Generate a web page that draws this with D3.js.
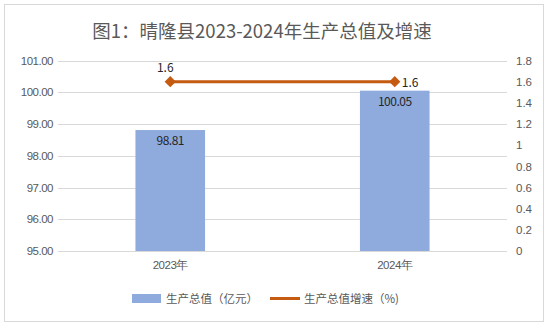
<!DOCTYPE html>
<html><head><meta charset="utf-8">
<script src="https://cdn.jsdelivr.net/npm/d3@7"></script>
<style>body{margin:0;background:#fff;}svg{display:block;font-family:"Noto Sans CJK SC","Noto Sans",sans-serif;}</style>
</head><body>
<svg id="c" width="548" height="326"></svg>
<script>
const categories = ["2023年", "2024年"];
const gdpValues = [98.81, 100.05];
const growthValues = [1.6, 1.6];
const leftTicks = [95, 96, 97, 98, 99, 100, 101];
const rightTicks = [0, 0.2, 0.4, 0.6, 0.8, 1, 1.2, 1.4, 1.6, 1.8];
const seriesNames = ["生产总值（亿元）", "生产总值增速（%)"];
const title = "图1：晴隆县2023-2024年生产总值及增速";

const svg = d3.select("#c");
const textColor = "#595959";
svg.append("rect").attr("x",4.5).attr("y",4.5).attr("width",539).attr("height",317)
  .attr("fill","#fff").attr("stroke","#d9d9d9");

svg.append("text").attr("x",262).attr("y",38).attr("text-anchor","middle")
  .attr("font-size",18.5).attr("fill",textColor).text(title);

const x = d3.scaleBand().domain(categories).range([58,507]).paddingInner(0.69).paddingOuter(0.345);
const y = d3.scaleLinear().domain([95,101]).range([251,60.5]);
const y2 = d3.scaleLinear().domain([0,1.8]).range([251,60.5]);

// grid
svg.append("g").selectAll("line").data(leftTicks).join("line")
  .attr("x1",58).attr("x2",507).attr("y1",d=>Math.round(y(d))+0.5).attr("y2",d=>Math.round(y(d))+0.5)
  .attr("stroke","#d9d9d9").attr("stroke-width",1);

// left axis
const la = svg.append("g").attr("transform","translate(53,0)")
  .call(d3.axisLeft(y).tickValues(leftTicks).tickFormat(d3.format(".2f")).tickSize(0).tickPadding(0));
la.select(".domain").remove();
la.selectAll("text").attr("font-size",11.5).attr("fill",textColor).attr("letter-spacing","-0.5");

// right axis
const ra = svg.append("g").attr("transform","translate(516,0)")
  .call(d3.axisRight(y2).tickValues(rightTicks).tickFormat(d=>String(+d.toFixed(1))).tickSize(0).tickPadding(0));
ra.select(".domain").remove();
ra.selectAll("text").attr("font-size",11.5).attr("fill",textColor);

// bars
svg.append("g").selectAll("rect").data(gdpValues).join("rect")
  .attr("x",(d,i)=>x(categories[i])).attr("width",x.bandwidth())
  .attr("y",d=>y(d)).attr("height",d=>y(95)-y(d)).attr("fill","#8FAADC");
svg.append("g").selectAll("text").data(gdpValues).join("text")
  .attr("x",(d,i)=>x(categories[i])+x.bandwidth()/2).attr("y",d=>y(d)+15)
  .attr("text-anchor","middle").attr("font-size",12).attr("fill","#262626").attr("letter-spacing","-0.5")
  .text(d=>d.toFixed(2));

// x axis labels
const xa = svg.append("g").attr("transform","translate(0,251)")
  .call(d3.axisBottom(x).tickSize(0).tickPadding(10));
xa.select(".domain").remove();
xa.selectAll("text").attr("font-size",11.5).attr("fill",textColor).attr("letter-spacing","-0.5");

// line
const cx = (d,i)=>x(categories[i])+x.bandwidth()/2;
svg.append("path").datum(growthValues)
  .attr("d",d3.line().x(cx).y(d=>y2(d)))
  .attr("fill","none").attr("stroke","#C55A11").attr("stroke-width",3);
svg.append("g").selectAll("path").data(growthValues).join("path")
  .attr("transform",(d,i)=>`translate(${cx(d,i)},${y2(d)})`)
  .attr("d",d3.symbol(d3.symbolDiamond2,80)).attr("fill","#C55A11");
svg.append("g").selectAll("text").data(growthValues).join("text")
  .attr("x",(d,i)=>i===0?cx(d,i)-5:cx(d,i)+7).attr("y",(d,i)=>i===0?y2(d)-10:y2(d)+5)
  .attr("text-anchor",(d,i)=>i===0?"middle":"start").attr("font-size",12).attr("fill","#262626")
  .text(d=>d.toFixed(1));

// legend
const lg = svg.append("g");
lg.append("rect").attr("x",132).attr("y",294).attr("width",29).attr("height",9).attr("fill","#8FAADC");
lg.append("text").attr("x",166).attr("y",303).attr("font-size",11.5).attr("fill",textColor).text(seriesNames[0]);
lg.append("line").attr("x1",270).attr("x2",300).attr("y1",298.5).attr("y2",298.5).attr("stroke","#C55A11").attr("stroke-width",3);
lg.append("text").attr("x",304).attr("y",303).attr("font-size",11.5).attr("fill",textColor).text(seriesNames[1]);
</script>
</body></html>
